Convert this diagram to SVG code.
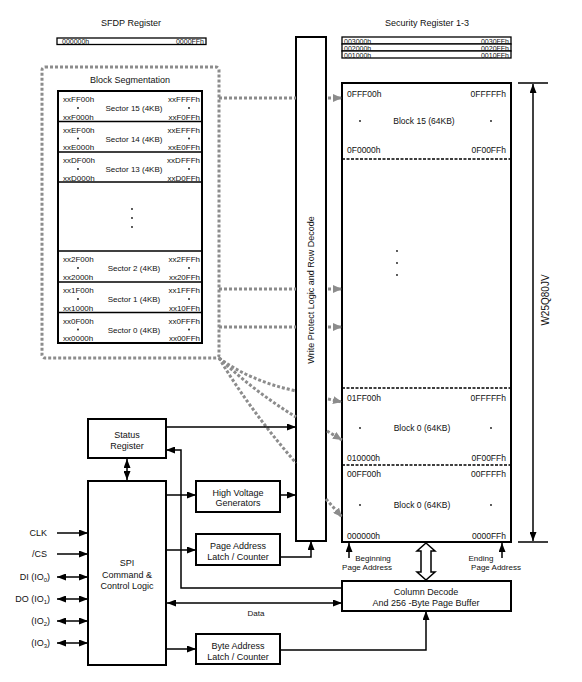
<svg xmlns="http://www.w3.org/2000/svg" width="582" height="682" viewBox="0 0 582 682">
<defs>
<style>
text{font-family:"Liberation Sans",Arial,sans-serif;fill:#111}
.t9{font-size:9px}
.t8{font-size:8px}
.t85{font-size:8.5px}
.t7{font-size:7px}
.mid{text-anchor:middle}
.end{text-anchor:end}
.box{fill:#fff;stroke:#000;stroke-width:2}
.thin{fill:#fff;stroke:#000;stroke-width:1.3}
.ln{fill:none;stroke:#000;stroke-width:1.5}
.gd{fill:none;stroke:#8c8c8c;stroke-width:3;stroke-dasharray:3 2}
.bd{fill:none;stroke:#000;stroke-width:1.6;stroke-dasharray:3 1.5}
</style>
<marker id="ah" markerUnits="userSpaceOnUse" markerWidth="9" markerHeight="7" refX="9" refY="3.5" orient="auto-start-reverse"><path d="M0,0 L9,3.5 L0,7 z" fill="#000"/></marker>
<marker id="gh" markerUnits="userSpaceOnUse" markerWidth="9" markerHeight="8" refX="9" refY="4" orient="auto"><path d="M0,0 L9,4 L0,8 z" fill="#8c8c8c"/></marker>
</defs>
<rect width="582" height="682" fill="#fff"/>

<g id="sfdp">
<text class="t9 mid" x="131" y="26">SFDP Register</text>
<rect class="thin" x="57" y="38" width="149" height="6.5"/>
<text class="t7" x="62" y="44">000000h</text>
<text class="t7 end" x="204" y="44">0000FFh</text>
</g>

<g id="security">
<text class="t9 mid" x="427" y="26">Security Register 1-3</text>
<rect class="thin" x="342" y="37" width="169" height="7"/>
<rect class="thin" x="342" y="44" width="169" height="7"/>
<rect class="thin" x="342" y="51" width="169" height="7"/>
<text class="t7" x="344" y="43.5">003000h</text><text class="t7 end" x="509" y="43.5">0030FFh</text>
<text class="t7" x="344" y="50.5">002000h</text><text class="t7 end" x="509" y="50.5">0020FFh</text>
<text class="t7" x="344" y="57.5">001000h</text><text class="t7 end" x="509" y="57.5">0010FFh</text>
</g>

<g id="block-segmentation">
<rect class="gd" x="42" y="67" width="177" height="291" rx="3"/>
<text class="t9 mid" x="130" y="83">Block Segmentation</text>
<rect class="box" x="58" y="91" width="144" height="252"/>
<line class="ln" stroke-width="2" x1="58" y1="121.5" x2="202" y2="121.5"/>
<line class="ln" stroke-width="2" x1="58" y1="152" x2="202" y2="152"/>
<line class="ln" stroke-width="2" x1="58" y1="182" x2="202" y2="182"/>
<line class="ln" stroke-width="2" x1="58" y1="251" x2="202" y2="251"/>
<line class="ln" stroke-width="2" x1="58" y1="282" x2="202" y2="282"/>
<line class="ln" stroke-width="2" x1="58" y1="312.5" x2="202" y2="312.5"/>
<g fill="#111"><circle cx="132" cy="209" r="0.9"/><circle cx="132" cy="218" r="0.9"/><circle cx="132" cy="227" r="0.9"/></g>
</g>

<g id="sector15">
<text class="t8" x="63" y="102">xxFF00h</text><text class="t8 end" x="200" y="102">xxFFFFh</text>
<text class="t8 mid" x="134" y="111">Sector 15 (4KB)</text>
<circle cx="78" cy="108" r="0.9" fill="#111"/><circle cx="189" cy="108" r="0.9" fill="#111"/>
<text class="t8" x="63" y="119.5">xxF000h</text><text class="t8 end" x="200" y="119.5">xxF0FFh</text>
</g>
<g id="sector14">
<text class="t8" x="63" y="132.5">xxEF00h</text><text class="t8 end" x="200" y="132.5">xxEFFFh</text>
<text class="t8 mid" x="134" y="141.5">Sector 14 (4KB)</text>
<circle cx="78" cy="138.5" r="0.9" fill="#111"/><circle cx="189" cy="138.5" r="0.9" fill="#111"/>
<text class="t8" x="63" y="150">xxE000h</text><text class="t8 end" x="200" y="150">xxE0FFh</text>
</g>
<g id="sector13">
<text class="t8" x="63" y="163">xxDF00h</text><text class="t8 end" x="200" y="163">xxDFFFh</text>
<text class="t8 mid" x="134" y="172">Sector 13 (4KB)</text>
<circle cx="78" cy="169" r="0.9" fill="#111"/><circle cx="189" cy="169" r="0.9" fill="#111"/>
<text class="t8" x="63" y="180.5">xxD000h</text><text class="t8 end" x="200" y="180.5">xxD0FFh</text>
</g>
<g id="sector2">
<text class="t8" x="63" y="262">xx2F00h</text><text class="t8 end" x="200" y="262">xx2FFFh</text>
<text class="t8 mid" x="134" y="271">Sector 2 (4KB)</text>
<circle cx="78" cy="268" r="0.9" fill="#111"/><circle cx="189" cy="268" r="0.9" fill="#111"/>
<text class="t8" x="63" y="280">xx2000h</text><text class="t8 end" x="200" y="280">xx20FFh</text>
</g>
<g id="sector1">
<text class="t8" x="63" y="293">xx1F00h</text><text class="t8 end" x="200" y="293">xx1FFFh</text>
<text class="t8 mid" x="134" y="302">Sector 1 (4KB)</text>
<circle cx="78" cy="299" r="0.9" fill="#111"/><circle cx="189" cy="299" r="0.9" fill="#111"/>
<text class="t8" x="63" y="310.5">xx1000h</text><text class="t8 end" x="200" y="310.5">xx10FFh</text>
</g>
<g id="sector0">
<text class="t8" x="63" y="323.5">xx0F00h</text><text class="t8 end" x="200" y="323.5">xx0FFFh</text>
<text class="t8 mid" x="134" y="332.5">Sector 0 (4KB)</text>
<circle cx="78" cy="329.5" r="0.9" fill="#111"/><circle cx="189" cy="329.5" r="0.9" fill="#111"/>
<text class="t8" x="63" y="341">xx0000h</text><text class="t8 end" x="200" y="341">xx00FFh</text>
</g>

<g id="write-protect">
<rect class="box" x="296" y="37" width="30" height="504"/>
<text class="t9 mid" transform="rotate(-90 314 290)" x="314" y="290">Write Protect Logic and Row Decode</text>
</g>

<g id="memory-array">
<rect class="box" x="342" y="83" width="169" height="459"/>
<line class="bd" x1="342" y1="159" x2="511" y2="159"/>
<line class="bd" x1="342" y1="388" x2="511" y2="388"/>
<line class="bd" x1="342" y1="465" x2="511" y2="465"/>
<text class="t85" x="347" y="97">0FFF00h</text><text class="t85 end" x="506" y="97">0FFFFFh</text>
<text class="t85 mid" x="424" y="124">Block 15 (64KB)</text>
<circle cx="360" cy="121" r="0.9" fill="#111"/><circle cx="491" cy="121" r="0.9" fill="#111"/>
<text class="t85" x="347" y="153">0F0000h</text><text class="t85 end" x="506" y="153">0F00FFh</text>
<g fill="#111"><circle cx="397" cy="251" r="0.9"/><circle cx="397" cy="263" r="0.9"/><circle cx="397" cy="275" r="0.9"/></g>
<text class="t85" x="347" y="401">01FF00h</text><text class="t85 end" x="506" y="401">0FFFFFh</text>
<text class="t85 mid" x="422" y="431">Block 0 (64KB)</text>
<circle cx="360" cy="428" r="0.9" fill="#111"/><circle cx="491" cy="428" r="0.9" fill="#111"/>
<text class="t85" x="347" y="461">010000h</text><text class="t85 end" x="506" y="461">0F00FFh</text>
<text class="t85" x="347" y="477">00FF00h</text><text class="t85 end" x="506" y="477">00FFFFh</text>
<text class="t85 mid" x="422" y="508">Block 0 (64KB)</text>
<circle cx="360" cy="505" r="0.9" fill="#111"/><circle cx="491" cy="505" r="0.9" fill="#111"/>
<text class="t85" x="347" y="539">000000h</text><text class="t85 end" x="506" y="539">0000FFh</text>
<text class="t8 mid" x="373" y="561">Beginning</text>
<text class="t8 mid" x="367" y="570">Page Address</text>
<text class="t8 mid" x="481" y="561">Ending</text>
<text class="t8 mid" x="496" y="570">Page Address</text>
<text class="t9 mid" transform="rotate(-90 549 300)" x="549" y="300" style="font-size:10px">W25Q80JV</text>
</g>

<g id="status-register">
<rect class="box" x="88" y="419" width="78" height="39"/>
<text class="t9 mid" x="127" y="438">Status</text>
<text class="t9 mid" x="127" y="449">Register</text>
</g>

<g id="spi">
<rect class="box" x="88" y="481" width="78" height="184"/>
<text class="t9 mid" x="127" y="566">SPI</text>
<text class="t9 mid" x="127" y="578">Command &amp;</text>
<text class="t9 mid" x="127" y="589">Control Logic</text>
</g>

<g id="high-voltage">
<rect class="box" x="196" y="481" width="84" height="31"/>
<text class="t9 mid" x="238" y="496">High Voltage</text>
<text class="t9 mid" x="238" y="506">Generators</text>
</g>

<g id="page-address">
<rect class="box" x="196" y="534" width="84" height="31"/>
<text class="t9 mid" x="238" y="549">Page Address</text>
<text class="t9 mid" x="238" y="560">Latch / Counter</text>
</g>

<g id="byte-address">
<rect class="box" x="196" y="634" width="84" height="30"/>
<text class="t9 mid" x="238" y="649">Byte Address</text>
<text class="t9 mid" x="238" y="660">Latch / Counter</text>
</g>

<g id="column-decode">
<rect class="box" x="342" y="581" width="169" height="30"/>
<text class="t9 mid" x="426" y="595">Column Decode</text>
<text class="t9 mid" x="426" y="606">And 256 -Byte Page Buffer</text>
</g>

<g id="pins">
<text class="t9 end" x="47" y="536">CLK</text>
<text class="t9 end" x="47" y="557">/CS</text>
<text class="t9 end" x="50" y="580">DI (IO<tspan font-size="6" dy="2">0</tspan><tspan dy="-2">)</tspan></text>
<text class="t9 end" x="50" y="602">DO (IO<tspan font-size="6" dy="2">1</tspan><tspan dy="-2">)</tspan></text>
<text class="t9 end" x="50" y="624">(IO<tspan font-size="6" dy="2">2</tspan><tspan dy="-2">)</tspan></text>
<text class="t9 end" x="50" y="646">(IO<tspan font-size="6" dy="2">3</tspan><tspan dy="-2">)</tspan></text>
</g>

<g id="connectors">
<path class="gd" d="M219,98 H296"/>
<path class="gd" d="M328,98 H342" marker-end="url(#gh)"/>
<path class="gd" d="M219,289 H296"/>
<path class="gd" d="M328,289 H342" marker-end="url(#gh)"/>
<path class="gd" d="M219,327 H296"/>
<path class="gd" d="M328,327 H342" marker-end="url(#gh)"/>
<path class="gd" d="M219,358 Q250,381 296,391"/>
<path class="gd" d="M328,399 L342,402" marker-end="url(#gh)"/>
<path class="gd" d="M219,358 Q255,392 296,417"/>
<path class="gd" d="M327,431 L342,440" marker-end="url(#gh)"/>
<path class="gd" d="M219,358 Q250,410 296,463"/>
<path class="gd" d="M326,499 L342,517" marker-end="url(#gh)"/>

<path class="ln" d="M166,427 H296" marker-end="url(#ah)"/>
<path class="ln" d="M342,588 H181 V450 H166" marker-end="url(#ah)"/>
<path class="ln" d="M127,459 V480" marker-start="url(#ah)" marker-end="url(#ah)"/>
<path class="ln" d="M166,495 H196" marker-end="url(#ah)"/>
<path class="ln" d="M280,495 H296" marker-end="url(#ah)"/>
<path class="ln" d="M166,550 H196" marker-end="url(#ah)"/>
<path class="ln" d="M280,557 H311 V541" marker-end="url(#ah)"/>
<path class="ln" d="M167,603 H342" marker-start="url(#ah)" marker-end="url(#ah)"/>
<text class="t8 mid" x="256" y="616">Data</text>
<path class="ln" d="M166,649 H196" marker-end="url(#ah)"/>
<path class="ln" d="M280,650 H426 V611" marker-end="url(#ah)"/>

<path class="ln" d="M57,533 H88" marker-end="url(#ah)"/>
<path class="ln" d="M57,554 H88" marker-end="url(#ah)"/>
<path class="ln" d="M57,577 H88" marker-start="url(#ah)" marker-end="url(#ah)"/>
<path class="ln" d="M57,599 H88" marker-start="url(#ah)" marker-end="url(#ah)"/>
<path class="ln" d="M57,621 H88" marker-start="url(#ah)" marker-end="url(#ah)"/>
<path class="ln" d="M57,643 H88" marker-start="url(#ah)" marker-end="url(#ah)"/>

<path class="ln" d="M349,558 V543" marker-end="url(#ah)"/>
<path class="ln" d="M502,558 V543" marker-end="url(#ah)"/>
<polygon points="426,543 435,551 431,551 431,572 435,572 426,580 417,572 421,572 421,551 417,551" fill="#fff" stroke="#000" stroke-width="1.5"/>

<path class="ln" d="M518,83 H548 M518,542 H548"/>
<path class="ln" d="M533,84 V541" marker-start="url(#ah)" marker-end="url(#ah)"/>
</g>
</svg>
